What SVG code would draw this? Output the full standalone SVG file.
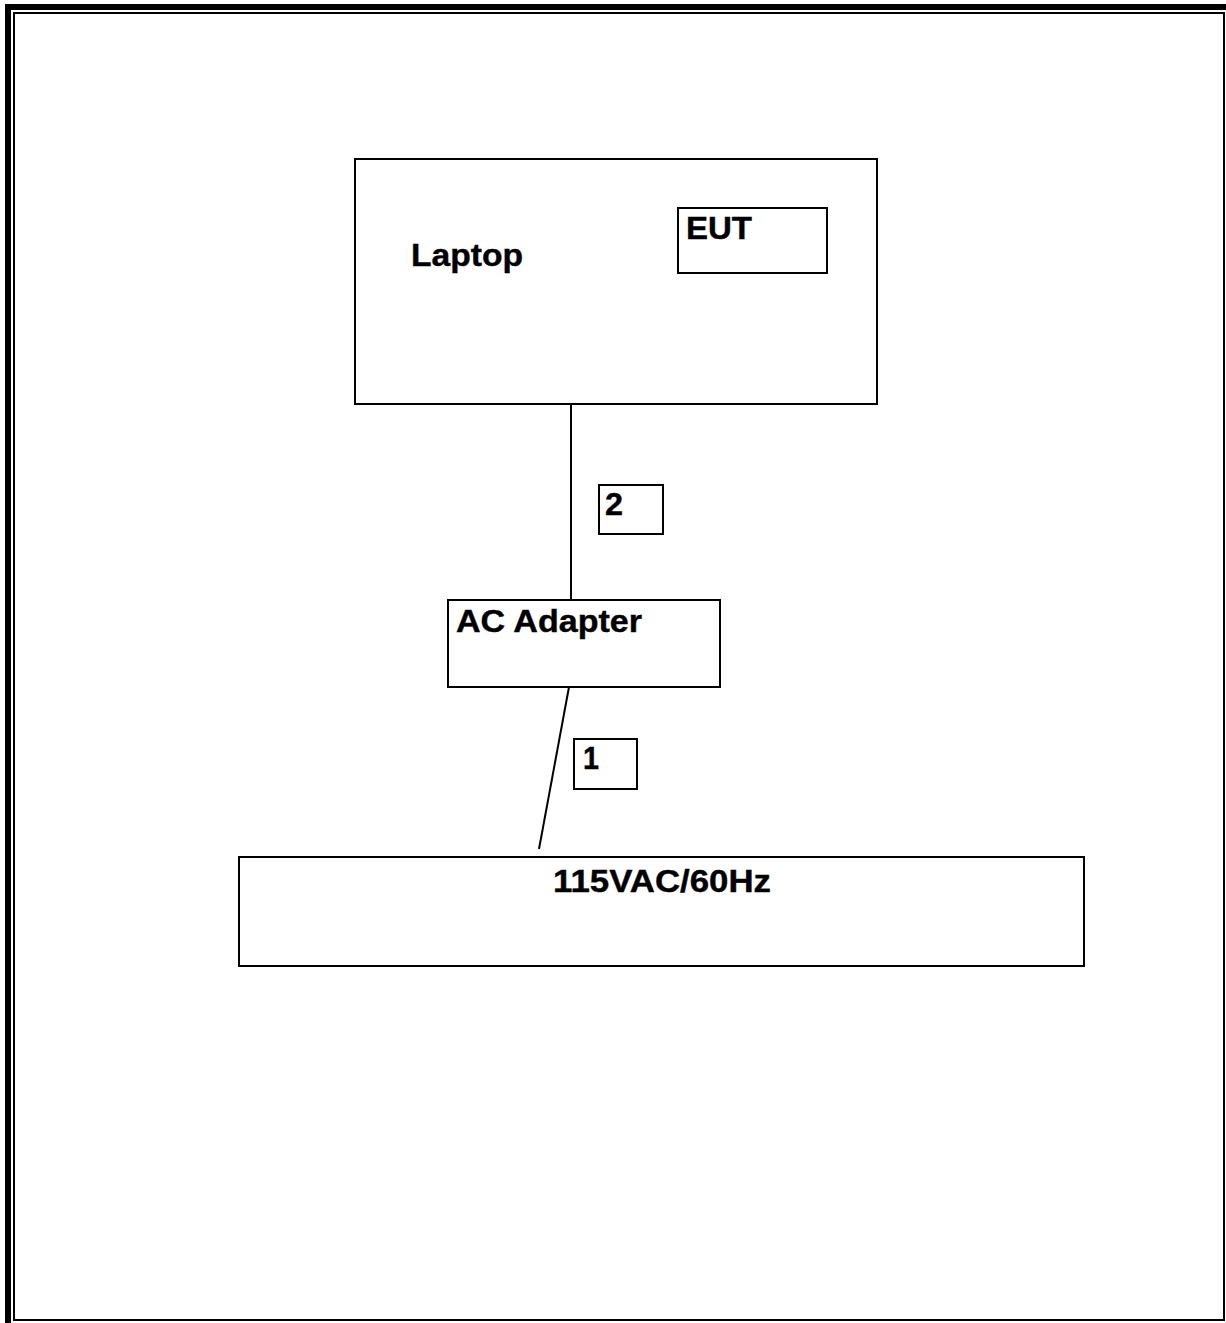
<svg xmlns="http://www.w3.org/2000/svg" width="1226" height="1323" viewBox="0 0 1226 1323">
<style>
.box{fill:#fff;stroke:#000;stroke-width:2}
.lbl{font-family:"Liberation Sans",Arial,sans-serif;font-weight:bold;font-size:31px;fill:#000;stroke:#000;stroke-width:0.4}
.wire{stroke:#000;stroke-width:2;fill:none}
</style>
<rect width="1226" height="1323" fill="#fff"/>
<g id="frame">
<path d="M8 1323 V7 H1226" fill="none" stroke="#000" stroke-width="6"/>
<rect x="14" y="13" width="1210" height="1307" fill="none" stroke="#000" stroke-width="2"/>
</g>
<g id="connectors">
<line class="wire" x1="571" y1="404" x2="571" y2="600"/>
<line class="wire" x1="569" y1="687" x2="539" y2="849"/>
</g>
<g id="laptop">
<rect class="box" x="355" y="159" width="522" height="245"/>
<text class="lbl" x="411" y="266" textLength="112" lengthAdjust="spacingAndGlyphs">Laptop</text>
</g>
<g id="eut">
<rect class="box" x="678" y="208" width="149" height="65"/>
<text class="lbl" x="686" y="239" textLength="66" lengthAdjust="spacingAndGlyphs">EUT</text>
</g>
<g id="label2">
<rect class="box" x="599" y="485" width="64" height="49"/>
<text class="lbl" x="605" y="515" textLength="18" lengthAdjust="spacingAndGlyphs">2</text>
</g>
<g id="adapter">
<rect class="box" x="448" y="600" width="272" height="87"/>
<text class="lbl" x="456" y="632" textLength="186" lengthAdjust="spacingAndGlyphs">AC Adapter</text>
</g>
<g id="label1">
<rect class="box" x="574" y="739" width="63" height="50"/>
<text class="lbl" x="583" y="769" textLength="16" lengthAdjust="spacingAndGlyphs">1</text>
</g>
<g id="mains">
<rect class="box" x="239" y="857" width="845" height="109"/>
<text class="lbl" x="553" y="892" textLength="218" lengthAdjust="spacingAndGlyphs">115VAC/60Hz</text>
</g>
</svg>
